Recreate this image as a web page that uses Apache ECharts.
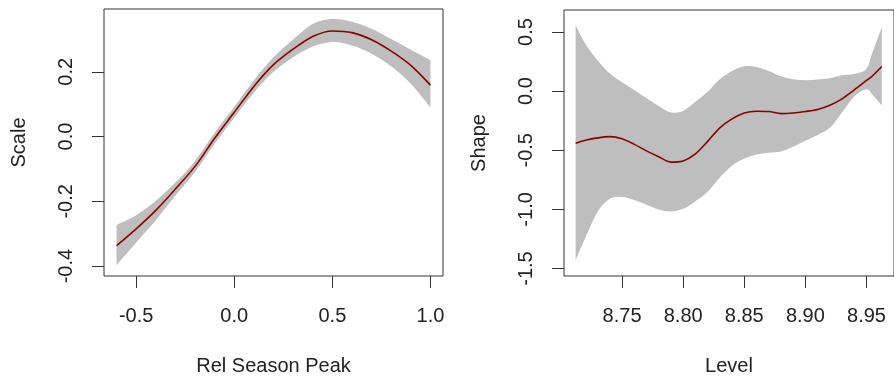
<!DOCTYPE html>
<html>
<head>
<meta charset="utf-8">
<script src="https://cdn.jsdelivr.net/npm/echarts@6/dist/echarts.min.js"></script>
<style>
  html, body { margin: 0; padding: 0; background: #fff; }
  #chart { width: 894px; height: 381px; }
</style>
</head>
<body>
<div id="chart"></div>
<script>
// Left panel: Scale vs Rel Season Peak
const peakX = [-0.6, -0.5, -0.4, -0.3, -0.2, -0.1, 0.0, 0.1, 0.2, 0.3, 0.4, 0.5, 0.6, 0.7, 0.8, 0.9, 1.0];
const scaleFit = [-0.337, -0.285, -0.228, -0.162, -0.092, -0.005, 0.075, 0.155, 0.222, 0.270, 0.309, 0.326, 0.321, 0.299, 0.264, 0.220, 0.159];
const scaleUpper = [-0.273, -0.243, -0.198, -0.142, -0.075, 0.012, 0.092, 0.174, 0.245, 0.300, 0.348, 0.363, 0.355, 0.333, 0.301, 0.268, 0.236];
const scaleLower = [-0.397, -0.327, -0.258, -0.182, -0.109, -0.022, 0.058, 0.136, 0.200, 0.245, 0.278, 0.292, 0.281, 0.256, 0.217, 0.163, 0.090];
const peakTicks = [-0.5, 0.0, 0.5, 1.0];
const scaleTicks = [-0.4, -0.2, 0.0, 0.2];

// Right panel: Shape vs Level
const levelX = [8.712, 8.72, 8.73, 8.74, 8.75, 8.76, 8.77, 8.78, 8.79, 8.80, 8.81, 8.82, 8.83, 8.84, 8.85,
  8.86, 8.87, 8.88, 8.89, 8.90, 8.91, 8.92, 8.93, 8.94, 8.95, 8.955, 8.9625];
const shapeFit = [-0.44, -0.415, -0.395, -0.385, -0.403, -0.45, -0.505, -0.555, -0.60, -0.59, -0.53, -0.425, -0.31, -0.235, -0.185,
  -0.17, -0.172, -0.19, -0.185, -0.172, -0.155, -0.12, -0.065, 0.01, 0.09, 0.13, 0.208];
const shapeUpper = [0.56, 0.40, 0.26, 0.15, 0.075, 0.01, -0.06, -0.125, -0.18, -0.165, -0.09, -0.005, 0.10, 0.17, 0.21,
  0.205, 0.17, 0.125, 0.10, 0.093, 0.098, 0.11, 0.135, 0.145, 0.19, 0.33, 0.54];
const shapeLower = [-1.43, -1.24, -1.02, -0.91, -0.895, -0.92, -0.96, -1.0, -1.017, -0.995, -0.93, -0.85, -0.73, -0.63, -0.57,
  -0.535, -0.52, -0.51, -0.47, -0.42, -0.37, -0.31, -0.18, -0.045, 0.015, -0.03, -0.12];
const levelTicks = [8.75, 8.80, 8.85, 8.90, 8.95];
const shapeTicks = [-1.5, -1.0, -0.5, 0.0, 0.5];

const FONT = "Liberation Sans, Arial, sans-serif";
const TEXT = "#222";
const AXIS = "#333";

function xAxisFor(gridIndex, min, max, ticks, digits, name) {
  return {
    type: "value", gridIndex, min, max, name,
    nameLocation: "middle", nameGap: 80,
    nameTextStyle: { fontFamily: FONT, fontSize: 20, color: TEXT },
    axisLine: { show: false, onZero: false },
    splitLine: { show: false },
    axisTick: { show: true, inside: false, length: 12, customValues: ticks, lineStyle: { color: AXIS, width: 1 } },
    axisLabel: {
      customValues: ticks, margin: 30, fontFamily: FONT, fontSize: 20, color: TEXT,
      formatter: (v) => v.toFixed(digits),
    },
  };
}

function yAxisFor(gridIndex, min, max, ticks, name) {
  return {
    type: "value", gridIndex, min, max, name,
    nameLocation: "middle", nameGap: 75,
    nameTextStyle: { fontFamily: FONT, fontSize: 20, color: TEXT },
    axisLine: { show: false, onZero: false },
    splitLine: { show: false },
    axisTick: { show: true, inside: false, length: 12, customValues: ticks, lineStyle: { color: AXIS, width: 1 } },
    axisLabel: {
      customValues: ticks, margin: 28, rotate: 90, fontFamily: FONT, fontSize: 20, color: TEXT,
      formatter: (v) => v.toFixed(1),
    },
  };
}

// Catmull-Rom style cubic segments through pixel points (path continues from pts[0])
function curveThrough(pts) {
  let d = "";
  for (let i = 0; i < pts.length - 1; i++) {
    const p0 = pts[Math.max(i - 1, 0)], p1 = pts[i], p2 = pts[i + 1], p3 = pts[Math.min(i + 2, pts.length - 1)];
    const c1 = [p1[0] + (p2[0] - p0[0]) / 6, p1[1] + (p2[1] - p0[1]) / 6];
    const c2 = [p2[0] - (p3[0] - p1[0]) / 6, p2[1] - (p3[1] - p1[1]) / 6];
    d += ` C${c1[0]},${c1[1]} ${c2[0]},${c2[1]} ${p2[0]},${p2[1]}`;
  }
  return d;
}

// confidence band drawn as one filled shape through the library's coordinate system
function bandSeries(idx, xs, lower, upper) {
  return {
    type: "custom", xAxisIndex: idx, yAxisIndex: idx, silent: true, z: 2,
    data: xs.map((x, i) => [x, lower[i], upper[i]]),
    encode: { x: 0, y: [1, 2] },
    renderItem: (params, api) => {
      if (params.dataIndex !== 0) return null;
      const up = xs.map((x, i) => api.coord([x, upper[i]]));
      const lo = xs.map((x, i) => api.coord([x, lower[i]])).reverse();
      const d = `M${up[0][0]},${up[0][1]}` + curveThrough(up) +
        ` L${lo[0][0]},${lo[0][1]}` + curveThrough(lo) + " Z";
      return { type: "path", shape: { pathData: d }, style: { fill: "#bebebe", stroke: null } };
    },
  };
}

function fitSeries(idx, xs, ys) {
  return {
    type: "line", xAxisIndex: idx, yAxisIndex: idx,
    data: xs.map((x, i) => [x, ys[i]]),
    symbol: "none", smooth: 0.3,
    lineStyle: { color: "#8b0000", width: 1.6 }, z: 5,
  };
}

const chart = echarts.init(document.getElementById("chart"), null, { renderer: "canvas" });
chart.setOption({
  animation: false,
  backgroundColor: "#fff",
  grid: [
    { left: 104, top: 9, width: 339, height: 269, show: true, borderColor: AXIS, borderWidth: 1, backgroundColor: "transparent" },
    { left: 564, top: 10, width: 339, height: 270, show: true, borderColor: AXIS, borderWidth: 1, backgroundColor: "transparent" },
  ],
  xAxis: [
    xAxisFor(0, -0.664, 1.064, peakTicks, 1, "Rel Season Peak"),
    xAxisFor(1, 8.7025, 8.9725, levelTicks, 2, "Level"),
  ],
  yAxis: [
    yAxisFor(0, -0.4305, 0.394, scaleTicks, "Scale"),
    yAxisFor(1, -1.563, 0.686, shapeTicks, "Shape"),
  ],
  series: [
    bandSeries(0, peakX, scaleLower, scaleUpper),
    fitSeries(0, peakX, scaleFit),
    bandSeries(1, levelX, shapeLower, shapeUpper),
    fitSeries(1, levelX, shapeFit),
  ],
});
</script>
</body>
</html>
